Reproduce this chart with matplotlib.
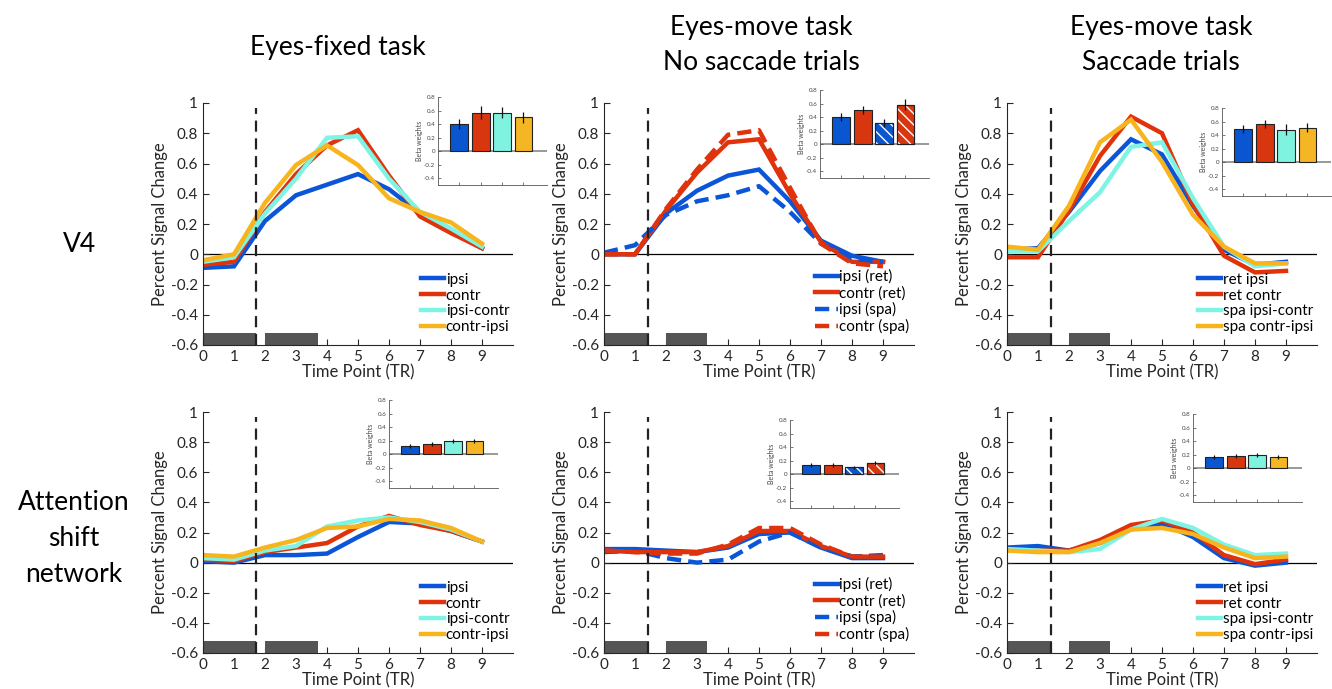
import matplotlib
matplotlib.use("Agg")
import matplotlib.pyplot as plt
import numpy as np

plt.rcParams['font.family'] = ['Lato', 'DejaVu Sans']

# time points
tr = [0, 1, 2, 3, 4, 5, 6, 7, 8, 9]

# V4 eyes-fixed
v4_fix_ipsi = [-0.09, -0.08, 0.22, 0.39, 0.46, 0.53, 0.43, 0.27, 0.15, 0.04]
v4_fix_contr = [-0.07, -0.05, 0.28, 0.53, 0.72, 0.82, 0.52, 0.25, 0.14, 0.04]
v4_fix_ic = [-0.05, -0.02, 0.27, 0.50, 0.77, 0.78, 0.50, 0.28, 0.17, 0.05]
v4_fix_ci = [-0.04, 0.0, 0.34, 0.59, 0.72, 0.59, 0.37, 0.28, 0.21, 0.07]

# V4 eyes-move, no saccade
v4_ns_ipsi_ret = [0.0, 0.0, 0.27, 0.42, 0.52, 0.56, 0.35, 0.09, -0.01, -0.05]
v4_ns_contr_ret = [0.0, 0.0, 0.29, 0.54, 0.74, 0.76, 0.40, 0.08, -0.05, -0.05]
v4_ns_ipsi_spa = [0.01, 0.06, 0.26, 0.35, 0.39, 0.45, 0.28, 0.07, -0.03, -0.05]
v4_ns_contr_spa = [0.0, 0.0, 0.30, 0.56, 0.79, 0.82, 0.44, 0.07, -0.06, -0.08]

# V4 eyes-move, saccade
v4_s_ret_ipsi = [0.03, 0.04, 0.28, 0.55, 0.76, 0.66, 0.32, 0.03, -0.07, -0.05]
v4_s_ret_contr = [-0.02, -0.02, 0.29, 0.65, 0.91, 0.80, 0.33, -0.01, -0.12, -0.11]
v4_s_spa_ic = [0.02, 0.02, 0.22, 0.41, 0.71, 0.74, 0.37, 0.05, -0.08, -0.06]
v4_s_spa_ci = [0.05, 0.03, 0.32, 0.74, 0.89, 0.61, 0.26, 0.05, -0.06, -0.06]

# attention network eyes-fixed
at_fix_ipsi = [0.01, 0.0, 0.05, 0.05, 0.06, 0.17, 0.27, 0.26, 0.21, 0.14]
at_fix_contr = [0.02, 0.01, 0.07, 0.10, 0.13, 0.24, 0.31, 0.25, 0.21, 0.14]
at_fix_ic = [0.03, 0.02, 0.08, 0.11, 0.24, 0.28, 0.30, 0.27, 0.22, 0.14]
at_fix_ci = [0.05, 0.04, 0.10, 0.15, 0.23, 0.24, 0.29, 0.28, 0.23, 0.14]

# attention network no saccade
at_ns_ipsi_ret = [0.09, 0.09, 0.08, 0.07, 0.10, 0.19, 0.20, 0.10, 0.03, 0.03]
at_ns_contr_ret = [0.08, 0.07, 0.07, 0.07, 0.11, 0.21, 0.21, 0.11, 0.04, 0.04]
at_ns_ipsi_spa = [0.07, 0.08, 0.03, 0.0, 0.02, 0.14, 0.20, 0.10, 0.04, 0.05]
at_ns_contr_spa = [0.08, 0.07, 0.06, 0.06, 0.12, 0.23, 0.23, 0.12, 0.04, 0.04]

# attention network saccade
at_s_ret_ipsi = [0.10, 0.11, 0.08, 0.13, 0.22, 0.26, 0.17, 0.03, -0.02, 0.0]
at_s_ret_contr = [0.09, 0.08, 0.08, 0.15, 0.25, 0.28, 0.20, 0.05, -0.01, 0.02]
at_s_spa_ic = [0.09, 0.08, 0.07, 0.09, 0.22, 0.29, 0.23, 0.12, 0.05, 0.06]
at_s_spa_ci = [0.08, 0.07, 0.07, 0.13, 0.22, 0.23, 0.19, 0.10, 0.03, 0.04]

# beta weights (inset bars) and errors
beta = [[0.40, 0.57, 0.57, 0.50], [0.40, 0.50, 0.31, 0.58], [0.49, 0.56, 0.48, 0.51],
        [0.12, 0.15, 0.20, 0.19], [0.13, 0.14, 0.10, 0.17], [0.17, 0.18, 0.19, 0.17]]
beta_err = [[0.07, 0.09, 0.08, 0.08], [0.06, 0.06, 0.06, 0.08], [0.06, 0.06, 0.08, 0.07],
            [0.03, 0.03, 0.03, 0.03], [0.03, 0.03, 0.02, 0.03], [0.03, 0.03, 0.03, 0.03]]

labels_fix = ["ipsi", "contr", "ipsi-contr", "contr-ipsi"]
labels_ns = ["ipsi (ret)", "contr (ret)", "ipsi (spa)", "contr (spa)"]
labels_s = ["ret ipsi", "ret contr", "spa ipsi-contr", "spa contr-ipsi"]

# stimulus periods (gray blocks) and cue line
stim_fix = [(0, 1.7), (2.0, 3.7)]
stim_move = [(0, 1.44), (2.0, 3.32)]
cue_fix = 1.7
cue_move = 1.42

blue = "#0a55d8"
red = "#e0330c"
cyan = "#7ef4e4"
yellow = "#f8b41c"
bar_cols = ["#0a55d0", "#d8360e", "#80f2e0", "#f4b622"]
dark = "#262626"

fig = plt.figure(figsize=(13.32, 6.89), dpi=100)

W, H = 1332, 689


def fr(x0, y0, x1, y1):
    # pixel box to figure fraction
    return [x0 / W, 1 - y1 / H, (x1 - x0) / W, (y1 - y0) / H]


main_pos = [fr(203, 103, 513, 345), fr(604, 103, 914, 345), fr(1007, 103, 1317, 345),
            fr(203, 412, 513, 653), fr(604, 412, 914, 653), fr(1007, 412, 1317, 653)]
inset_pos = [fr(438, 97, 547, 185), fr(820, 90, 929, 178), fr(1222, 108, 1331, 196),
             fr(389, 400, 498, 488), fr(790, 420, 899, 508), fr(1193, 414, 1302, 502)]
legend_x = {"fix": 0.67, "ns": 0.645, "s": 0.583}

panels = [
    ([v4_fix_ipsi, v4_fix_contr, v4_fix_ic, v4_fix_ci], labels_fix, "fix"),
    ([v4_ns_ipsi_ret, v4_ns_contr_ret, v4_ns_ipsi_spa, v4_ns_contr_spa], labels_ns, "ns"),
    ([v4_s_ret_ipsi, v4_s_ret_contr, v4_s_spa_ic, v4_s_spa_ci], labels_s, "s"),
    ([at_fix_ipsi, at_fix_contr, at_fix_ic, at_fix_ci], labels_fix, "fix"),
    ([at_ns_ipsi_ret, at_ns_contr_ret, at_ns_ipsi_spa, at_ns_contr_spa], labels_ns, "ns"),
    ([at_s_ret_ipsi, at_s_ret_contr, at_s_spa_ic, at_s_spa_ci], labels_s, "s"),
]

plt.rcParams['hatch.color'] = 'white'
plt.rcParams['hatch.linewidth'] = 1.0

for i, (series, labels, kind) in enumerate(panels):
    ax = fig.add_axes(main_pos[i])
    if kind == "ns":
        cols = [blue, red, blue, red]
        styles = ["-", "-", (0, (3.2, 1.6)), (0, (3.2, 1.6))]
    else:
        cols = [blue, red, cyan, yellow]
        styles = ["-", "-", "-", "-"]
    for s, c, ls, lab in zip(series, cols, styles, labels):
        ax.plot(tr, s, color=c, lw=3.2, ls=ls, label=lab, solid_joinstyle="miter")
    ax.axhline(0, color="black", lw=0.9, zorder=1)
    stim = stim_fix if kind == "fix" else stim_move
    cue = cue_fix if kind == "fix" else cue_move
    for a, b in stim:
        ax.fill_between([a, b], -0.6, -0.52, color="#555555", lw=0, zorder=2)
    ax.plot([cue, cue], [-0.6, 0.97], color="#222222", lw=1.6, ls=(0, (5, 3)), zorder=3)
    ax.set_xlim(0, 10)
    ax.set_ylim(-0.6, 1)
    ax.set_xticks(tr)
    ax.set_yticks(np.round(np.arange(-0.6, 1.01, 0.2), 1))
    ax.set_yticklabels(["-0.6", "-0.4", "-0.2", "0", "0.2", "0.4", "0.6", "0.8", "1"])
    ax.tick_params(direction="in", length=4, labelsize=11, colors=dark, width=0.8)
    for sp in ["top", "right"]:
        ax.spines[sp].set_visible(False)
    for sp in ["left", "bottom"]:
        ax.spines[sp].set_color(dark)
        ax.spines[sp].set_linewidth(0.8)
    ax.set_ylabel("Percent Signal Change", fontsize=12, color=dark, labelpad=2)
    ax.set_xlabel("Time Point (TR)", fontsize=12, color=dark, labelpad=0)
    ax.legend(loc="lower left", bbox_to_anchor=(legend_x[kind], 0.0), frameon=False, fontsize=11,
              handlelength=1.5, handletextpad=0.1, labelspacing=0.12, borderpad=0.2)

    # inset beta weights
    ins = fig.add_axes(inset_pos[i])
    xs = [1, 2, 3, 4]
    fill = bar_cols if kind != "ns" else [bar_cols[0], bar_cols[1], bar_cols[0], bar_cols[1]]
    ins.bar(xs, beta[i], width=0.84, color=fill, edgecolor="#222222", lw=0.8, zorder=2)
    if kind == "ns":
        ins.bar(xs[2:], beta[i][2:], width=0.84, color="none", edgecolor="white", hatch="\\\\\\",
                lw=0, zorder=3)
        ins.bar(xs[2:], beta[i][2:], width=0.84, color="none", edgecolor="#222222", lw=0.8, zorder=4)
    ins.errorbar(xs, beta[i], yerr=beta_err[i], fmt="none", ecolor="#111111", elinewidth=0.9, zorder=5)
    ins.axhline(0, color="#888888", lw=1.2, zorder=1)
    ins.set_xlim(0, 5.1)
    ins.set_ylim(-0.5, 0.8)
    ins.set_xticks(xs)
    ins.set_xticklabels([])
    ins.set_yticks([-0.4, -0.2, 0, 0.2, 0.4, 0.6, 0.8])
    ins.set_yticklabels(["-0.4", "-0.2", "0", "0.2", "0.4", "0.6", "0.8"])
    ins.tick_params(direction="in", length=2, labelsize=4.5, colors="#444444", width=0.5, pad=2)
    for sp in ["top", "right"]:
        ins.spines[sp].set_visible(False)
    for sp in ["left", "bottom"]:
        ins.spines[sp].set_color("#555555")
        ins.spines[sp].set_linewidth(0.6)
    ins.set_ylabel("Beta weights", fontsize=5, color="#444444", labelpad=1)

# column titles and row labels
fig.text(338 / W, 1 - 47 / H, "Eyes-fixed task", fontsize=19, ha="center", va="center")
fig.text(761 / W, 1 - 45 / H, "Eyes-move task\nNo saccade trials", fontsize=19, ha="center",
         va="center", linespacing=1.45)
fig.text(1161 / W, 1 - 45 / H, "Eyes-move task\nSaccade trials", fontsize=19, ha="center",
         va="center", linespacing=1.45)
fig.text(80 / W, 1 - 245 / H, "V4", fontsize=19, ha="center", va="center")
fig.text(74 / W, 1 - 538 / H, "Attention\nshift\nnetwork", fontsize=19, ha="center",
         va="center", linespacing=1.55)

fig.savefig("out.png", dpi=100)
